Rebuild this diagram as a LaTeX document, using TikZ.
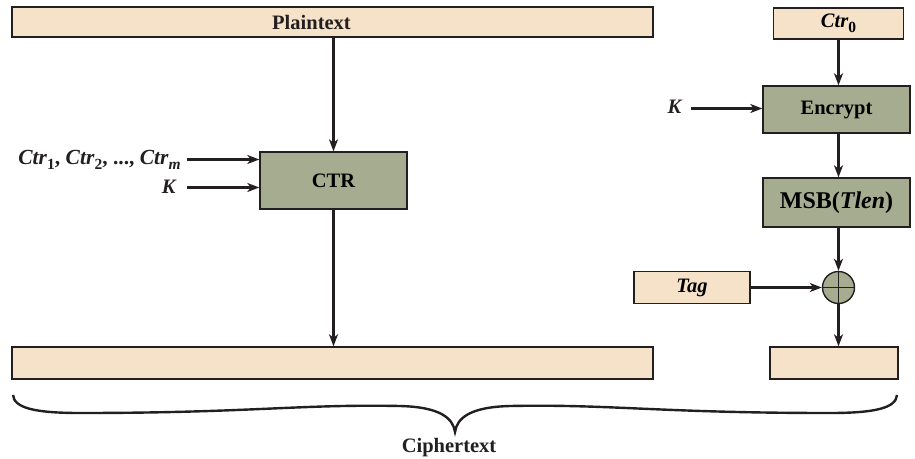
\documentclass[tikz,border=0pt]{standalone}
\usepackage{fontspec}
\setmainfont{Liberation Serif}
\usetikzlibrary{arrows.meta}
\definecolor{beige}{RGB}{245,226,201}
\definecolor{olive}{RGB}{166,172,144}
\definecolor{edge}{RGB}{35,31,32}
\newcommand\lsub[1]{\raisebox{-4.5pt}{\fontsize{15.5}{15.5}\selectfont #1}}
\begin{document}
\begin{tikzpicture}[x=1pt,y=-1pt,
  font=\bfseries\fontsize{20.5}{22}\selectfont,
  beigebox/.style={draw=edge, line width=1.4pt, fill=beige, inner sep=0pt},
  olivebox/.style={draw=edge, line width=1.4pt, fill=olive, inner sep=0pt},
  arr/.style={line width=2.6pt, draw=edge, -{Stealth[length=12pt,width=9pt,inset=3.5pt]}},
  lbl/.style={inner sep=0pt, text=edge}
]
\useasboundingbox (0,0) rectangle (915,458);
% boxes
\node[beigebox, minimum width=641pt, minimum height=30pt] (plain) at (332.5,22) {};
\node[lbl] (plainlbl) at (311.5,22) {Plaintext};
\node[beigebox, minimum width=130pt, minimum height=31pt] (ctrz) at (838.5,23.5) {\textit{Ctr}\lsub{0}};
\node[olivebox, minimum width=147pt, minimum height=47pt] (enc) at (836.5,109.5) {Encrypt};
\node[olivebox, minimum width=147pt, minimum height=49pt, font=\bfseries\fontsize{24}{26}\selectfont] (msb) at (836.5,202.5) {MSB(\textit{Tlen})};
\node[olivebox, circle, minimum size=32pt] (xor) at (838.5,287.5) {};
\draw[edge, line width=1.4pt] (xor.north) -- (xor.south) (xor.west) -- (xor.east);
\node[beigebox, minimum width=116pt, minimum height=32pt] (tag) at (692,287.5) {\textit{Tag}};
\node[olivebox, minimum width=147pt, minimum height=57pt] (ctrb) at (333.5,180.5) {CTR};
\node[beigebox, minimum width=641pt, minimum height=32pt] (outl) at (332.5,363) {};
\node[beigebox, minimum width=128pt, minimum height=32pt] (outr) at (834,363) {};
% input labels
\node[lbl, anchor=east, font=\bfseries\fontsize{21.5}{23}\selectfont] (ctrs) at (181,160) {\textit{Ctr}\lsub{1}, \textit{Ctr}\lsub{2}, ..., \textit{Ctr}\lsub{\textit{m}}};
\node[lbl, anchor=east] (kl) at (177,187) {\textit{K}};
\node[lbl] (kr) at (675,107) {\textit{K}};
\coordinate (a1) at (187,159.5);
\coordinate (a2) at (187,187.5);
\coordinate (a3) at (691,108.5);
% connectors
\draw[arr] (ctrb.north |- plain.south) -- (ctrb.north);
\draw[arr] (ctrb.south) -- (ctrb.south |- outl.north);
\draw[arr] (a1) -- (a1 -| ctrb.west);
\draw[arr] (a2) -- (a2 -| ctrb.west);
\draw[arr] (a3) -- (a3 -| enc.west);
\draw[arr] (ctrz.south) -- (ctrz.south |- enc.north);
\draw[arr] (xor |- enc.south) -- (xor |- msb.north);
\draw[arr] (xor |- msb.south) -- (xor.north);
\draw[arr] (tag.east) -- (xor.west);
\draw[arr] (xor.south) -- (xor.south |- outr.north);
% brace
\draw[edge, line width=2.4pt]
  (13,395) .. controls (14,408) and (35,413) .. (80,413)
  .. controls (250,413) and (300,404) .. (400,406)
  .. controls (440,407) and (453,418) .. (455,432)
  .. controls (457,418) and (470,407) .. (510,406)
  .. controls (610,404) and (660,413) .. (830,413)
  .. controls (875,413) and (896,408) .. (897,395);
\node[lbl, anchor=base] (ciph) at (449,452) {Ciphertext};
\end{tikzpicture}
\end{document}
